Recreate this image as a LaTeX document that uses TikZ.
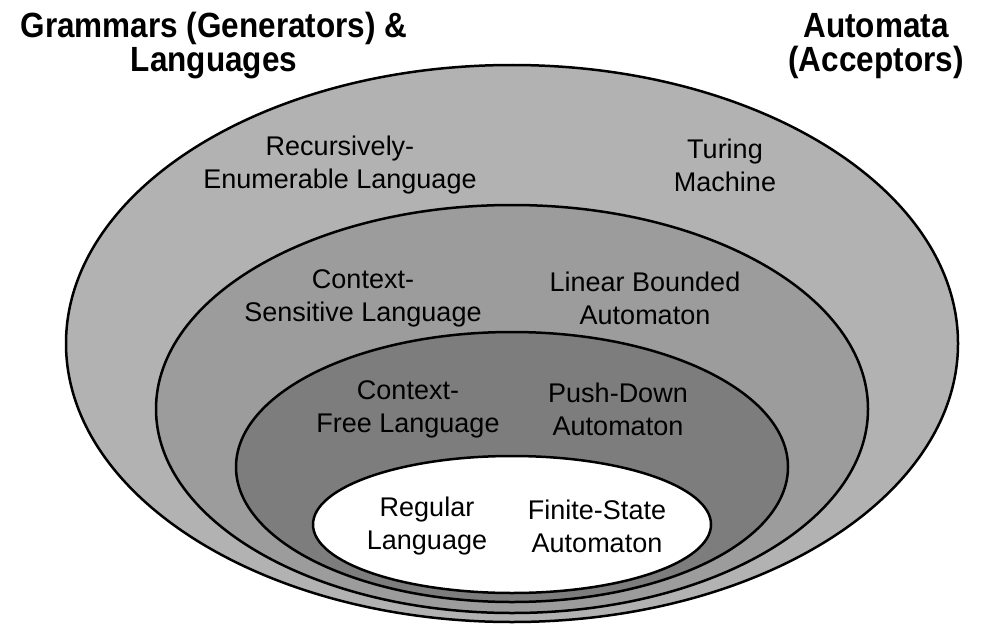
\documentclass[tikz,border=0pt]{standalone}
\usepackage{fontspec}
\setmainfont{Liberation Sans}
\newfontfamily\headfont{Liberation Sans}[FakeStretch=0.9]
\usetikzlibrary{shapes.geometric}

\definecolor{reFill}{gray}{0.70}
\definecolor{csFill}{gray}{0.61}
\definecolor{cfFill}{gray}{0.49}

\begin{document}
\begin{tikzpicture}[x=1pt, y=-1pt,
  region/.style={ellipse, draw=black, line width=2.5pt, inner sep=0pt},
  label/.style={align=center, inner sep=0pt, font=\fontsize{27}{33}\selectfont},
  heading/.style={align=center, inner sep=0pt, font=\headfont\bfseries\fontsize{35}{34}\selectfont}]
\useasboundingbox (0,0) rectangle (987,626);

% nested language classes, outermost first
\node[region, fill=reFill, minimum width=892pt, minimum height=557pt] (re) at (512,343.5) {};
\node[region, fill=csFill, minimum width=712pt, minimum height=408pt] (cs) at (512,409) {};
\node[region, fill=cfFill, minimum width=552pt, minimum height=270pt] (cf) at (512,467) {};
\node[region, fill=white,  minimum width=398pt, minimum height=137pt] (rg) at (512,524.5) {};

% column headings
\node[heading] (gram) at (214,46) {Grammars (Generators) \&\\Languages};
\node[heading] (auto) at (876,46) {Automata\\(Acceptors)};

% grammar / automaton pairs
\node[label] (reL) at (340,165) {Recursively-\\Enumerable Language};
\node[label] (reA) at (725,165) {Turing\\Machine};
\node[label] (csL) at (363,298) {Context-\\Sensitive Language};
\node[label] (csA) at (645,298) {Linear Bounded\\Automaton};
\node[label] (cfL) at (408,409) {Context-\\Free Language};
\node[label] (cfA) at (618,409) {Push-Down\\Automaton};
\node[label] (rgL) at (427,526) {Regular\\Language};
\node[label] (rgA) at (597,526) {Finite-State\\Automaton};
\end{tikzpicture}
\end{document}
